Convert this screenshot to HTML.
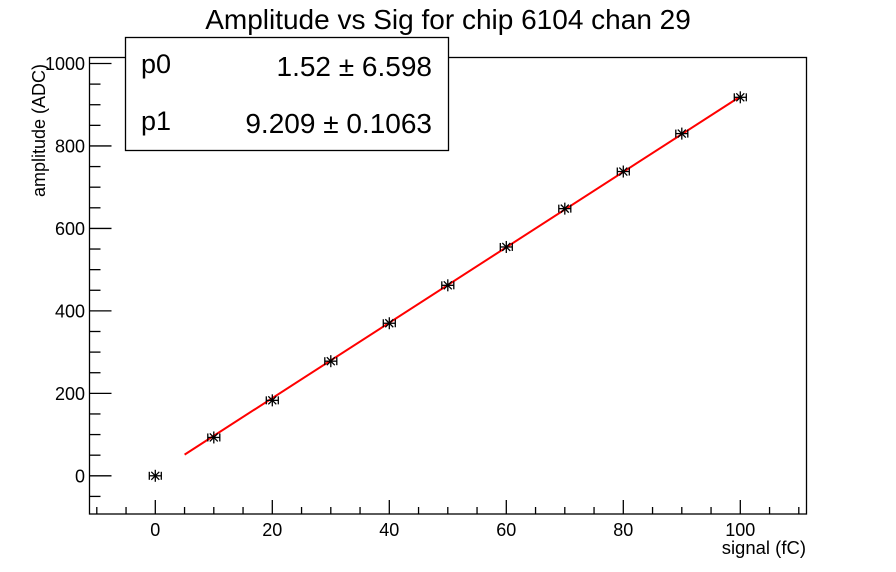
<!DOCTYPE html>
<html><head><style>body{margin:0;background:#fff}svg{display:block}text{font-family:"Liberation Sans",sans-serif}</style></head>
<body>
<svg width="896" height="572" viewBox="0 0 896 572" xmlns="http://www.w3.org/2000/svg">
<rect width="896" height="572" fill="#fff"/>
<text x="448" y="29" font-size="28" text-anchor="middle">Amplitude vs Sig for chip 6104 chan 29</text>
<rect x="89.5" y="57.5" width="717" height="456.5" fill="none" stroke="#000" stroke-width="1.3"/>
<g stroke="#000" stroke-width="1.3" id="ticks"></g>
<g font-size="18" id="labels"></g>
<text transform="translate(45,197) rotate(-90)" font-size="18">amplitude (ADC)</text>
<text x="806" y="554" font-size="18.5" text-anchor="end">signal (fC)</text>
<polyline points="184.6,454.6 740.3,96.5" stroke="#f00" stroke-width="2" fill="none"/>
<g id="pts" stroke="#000" stroke-width="1.3" fill="none"></g>
<rect x="125.5" y="37.5" width="323" height="113" fill="#fff" stroke="#000" stroke-width="1.3"/>
<text x="141" y="73" font-size="27">p0</text>
<text x="432" y="76" font-size="28" text-anchor="end">1.52 ± 6.598</text>
<text x="141" y="130" font-size="27">p1</text>
<text x="432" y="133" font-size="28" text-anchor="end">9.209 ± 0.1063</text>
<script>
var ns="http://www.w3.org/2000/svg";
function X(v){return 155.3+v*5.85}function Y(v){return 475.8-v*0.4123}
function ln(g,x1,y1,x2,y2){var l=document.createElementNS(ns,"line");l.setAttribute("x1",x1);l.setAttribute("y1",y1);l.setAttribute("x2",x2);l.setAttribute("y2",y2);g.appendChild(l)}
var t=document.getElementById("ticks"),lb=document.getElementById("labels");
function tx(x,y,s,a){var e=document.createElementNS(ns,"text");e.setAttribute("x",x);e.setAttribute("y",y);e.setAttribute("text-anchor",a);e.textContent=s;lb.appendChild(e)}
for(var v=-10;v<=110;v+=5){var x=X(v);var maj=v%20==0;ln(t,x,514,x,maj?500:507);if(maj&&v>=0&&v<=100)tx(x,536,v,"middle")}
for(var v=-50;v<=1000;v+=50){var y=Y(v);var maj=v%200==0;ln(t,89.5,y,maj?111.5:100.5,y);if(maj)tx(85,y+6.5,v,"end")}
var d=[[0,0],[10,93],[20,183],[30,278],[40,370],[50,462],[60,555],[70,648],[80,738],[90,830],[100,918]];
var p=document.getElementById("pts");
d.forEach(function(q){var x=X(q[0]),y=Y(q[1]);ln(p,x-6,y,x+6,y);ln(p,x-6,y-4,x-6,y+4);ln(p,x+6,y-4,x+6,y+4);ln(p,x,y-6,x,y+6);ln(p,x-4,y-4,x+4,y+4);ln(p,x-4,y+4,x+4,y-4)});
</script>
</svg>
</body></html>
